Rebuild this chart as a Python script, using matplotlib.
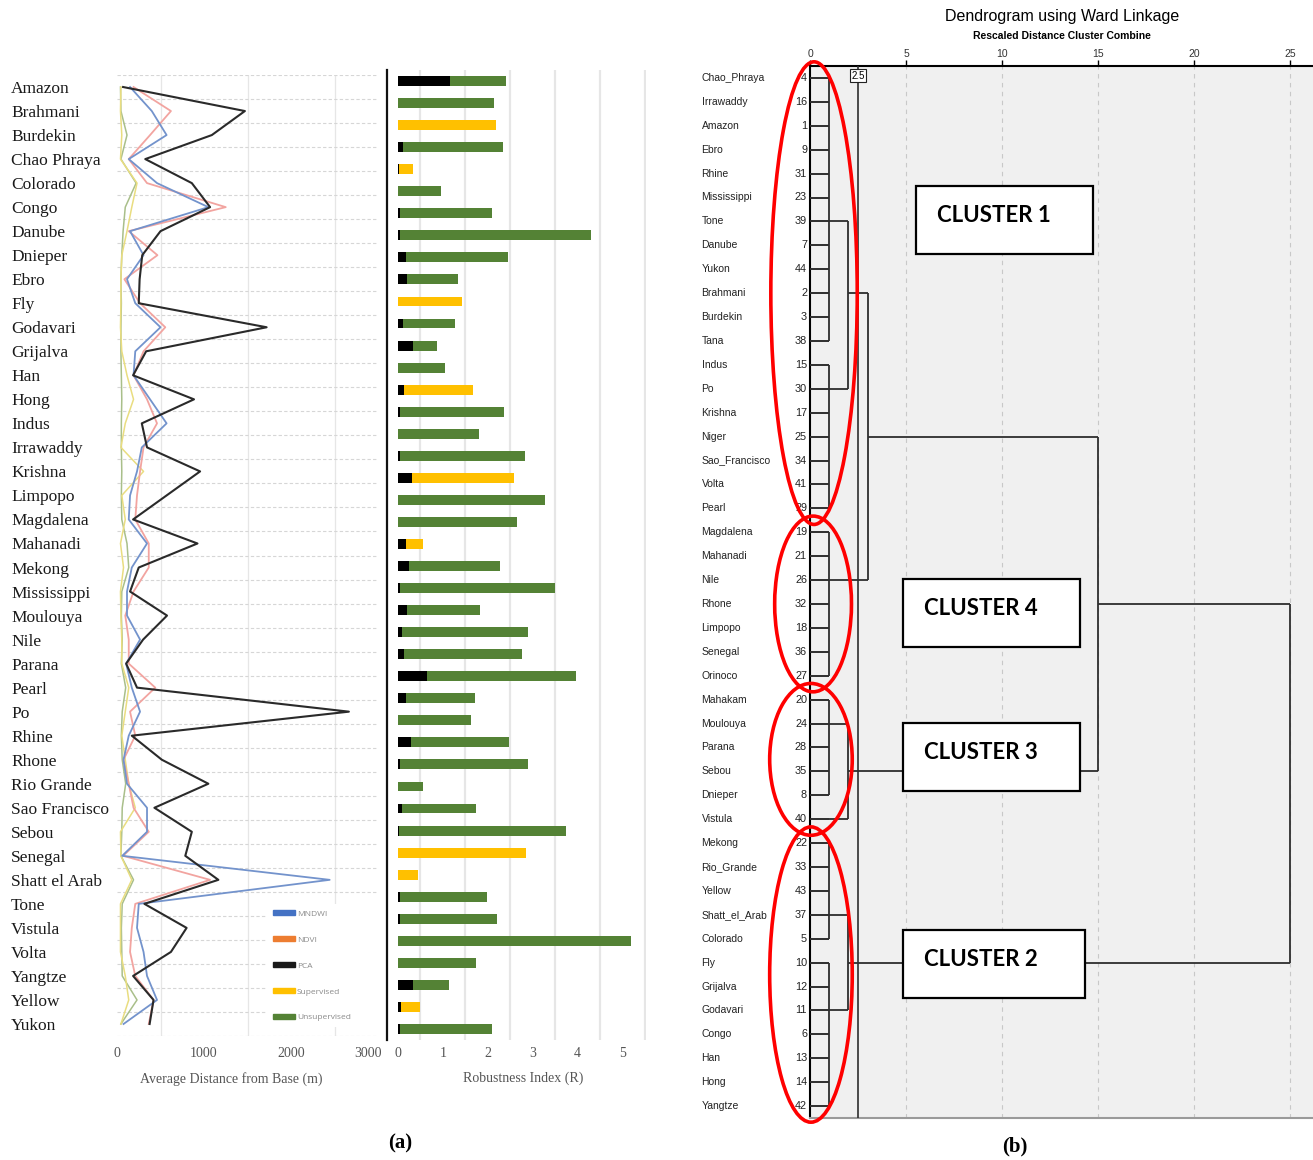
import matplotlib.pyplot as plt
import matplotlib.transforms as mtransforms
import numpy as np
from matplotlib.patches import Ellipse, Rectangle, Patch

# ---- panel (a): average distance from base, per river ----
rivers_a = ['Amazon', 'Brahmani', 'Burdekin', 'Chao Phraya', 'Colorado', 'Congo', 'Danube',
            'Dnieper', 'Ebro', 'Fly', 'Godavari', 'Grijalva', 'Han', 'Hong', 'Indus',
            'Irrawaddy', 'Krishna', 'Limpopo', 'Magdalena', 'Mahanadi', 'Mekong',
            'Mississippi', 'Moulouya', 'Nile', 'Parana', 'Pearl', 'Po', 'Rhine', 'Rhone',
            'Rio Grande', 'Sao Francisco', 'Sebou', 'Senegal', 'Shatt el Arab', 'Tone',
            'Vistula', 'Volta', 'Yangtze', 'Yellow', 'Yukon']
pca_dist = [70, 1470, 1090, 325, 860, 1070, 500, 290, 260, 250, 1720, 335, 185, 885, 285,
            345, 955, 570, 185, 925, 250, 150, 575, 300, 105, 230, 2665, 170, 515, 1050,
            430, 860, 785, 1165, 315, 800, 620, 185, 420, 375]
mndwi_dist = [150, 400, 570, 135, 460, 1050, 150, 305, 115, 210, 500, 210, 190, 380, 570,
              285, 230, 150, 135, 345, 170, 115, 115, 265, 105, 170, 265, 135, 75, 115,
              345, 345, 60, 2445, 250, 230, 305, 345, 460, 75]
ndvi_dist = [190, 620, 380, 135, 345, 1250, 135, 465, 85, 265, 555, 305, 190, 345, 460,
             305, 265, 230, 210, 365, 365, 190, 95, 135, 135, 440, 150, 210, 75, 135,
             190, 365, 70, 1070, 210, 170, 150, 210, 420, 365]
sup_dist = [45, 40, 55, 40, 230, 170, 115, 55, 45, 45, 40, 55, 115, 190, 95, 45, 305, 55,
            95, 40, 75, 40, 45, 55, 55, 135, 95, 55, 95, 135, 210, 40, 45, 170, 40, 40,
            40, 95, 135, 45]
unsup_dist = [40, 45, 115, 45, 220, 95, 70, 55, 45, 50, 45, 45, 50, 55, 50, 50, 55, 50, 55,
              115, 135, 55, 50, 60, 50, 100, 60, 50, 60, 100, 60, 55, 45, 190, 60, 50, 55,
              60, 230, 45]

# ---- panel (a): robustness index, 44 rivers ----
rivers_b = ['Amazon', 'Brahmani', 'Burdekin', 'Chao Phraya', 'Colorado', 'Congo', 'Danube',
            'Dnieper', 'Ebro', 'Fly', 'Godavari', 'Grijalva', 'Han', 'Hong', 'Indus',
            'Irrawaddy', 'Krishna', 'Limpopo', 'Magdalena', 'Mahakam', 'Mahanadi', 'Mekong',
            'Mississippi', 'Moulouya', 'Niger', 'Nile', 'Orinoco', 'Parana', 'Pearl', 'Po',
            'Rhine', 'Rhone', 'Rio Grande', 'Sao Francisco', 'Sebou', 'Senegal',
            'Shatt el Arab', 'Tana', 'Tone', 'Vistula', 'Volta', 'Yangtze', 'Yellow', 'Yukon']
r_pca = [1.15, 0, 0, 0.11, 0.03, 0, 0.05, 0.05, 0.19, 0.2, 0, 0.11, 0.34, 0, 0.13, 0.06, 0,
         0.06, 0.32, 0, 0, 0.18, 0.26, 0.04, 0.2, 0.1, 0.13, 0.64, 0.18, 0, 0.3, 0.05, 0,
         0.1, 0.03, 0, 0, 0.04, 0.06, 0, 0, 0.33, 0.07, 0.04]
r_sup = [0, 0, 2.18, 0, 0.30, 0, 0, 0, 0, 0, 1.43, 0, 0, 0, 1.55, 0, 0, 0, 2.26, 0, 0, 0.37,
         0, 0, 0, 0, 0, 0, 0, 0, 0, 0, 0, 0, 0, 2.86, 0.46, 0, 0, 0, 0, 0, 0.42, 0]
r_unsup = [1.25, 2.15, 0, 2.24, 0, 0.95, 2.05, 4.24, 2.25, 1.14, 0, 1.16, 0.54, 1.05, 0,
           2.31, 1.81, 2.78, 0, 3.28, 2.65, 0, 2.01, 3.45, 1.63, 2.79, 2.64, 3.32, 1.53,
           1.62, 2.17, 2.84, 0.55, 1.65, 3.71, 0, 0, 1.95, 2.15, 5.19, 1.73, 0.81, 0, 2.06]

methods = ['MNDWI', 'NDVI', 'PCA', 'Supervised', 'Unsupervised']
method_colors = ['#4472C4', '#ED7D31', '#1a1a1a', '#FFC000', '#548235']

# ---- panel (b): dendrogram ----
leaves = ['Chao_Phraya', 'Irrawaddy', 'Amazon', 'Ebro', 'Rhine', 'Mississippi', 'Tone',
          'Danube', 'Yukon', 'Brahmani', 'Burdekin', 'Tana', 'Indus', 'Po', 'Krishna',
          'Niger', 'Sao_Francisco', 'Volta', 'Pearl', 'Magdalena', 'Mahanadi', 'Nile',
          'Rhone', 'Limpopo', 'Senegal', 'Orinoco', 'Mahakam', 'Moulouya', 'Parana',
          'Sebou', 'Dnieper', 'Vistula', 'Mekong', 'Rio_Grande', 'Yellow',
          'Shatt_el_Arab', 'Colorado', 'Fly', 'Grijalva', 'Godavari', 'Congo', 'Han',
          'Hong', 'Yangtze']
leaf_ids = [4, 16, 1, 9, 31, 23, 39, 7, 44, 2, 3, 38, 15, 30, 17, 25, 34, 41, 29, 19, 21,
            26, 32, 18, 36, 27, 20, 24, 28, 35, 8, 40, 22, 33, 43, 37, 5, 10, 12, 11, 6,
            13, 14, 42]
# vertical joins: (distance, first row, last row)
joins = [(1, 0, 11), (1, 12, 18), (2, 6, 13), (1, 19, 25), (3, 9, 21), (1, 26, 30),
         (2, 27, 31), (15, 15, 29), (1, 32, 36), (1, 37, 43), (2, 35, 39), (25, 22, 37)]
# horizontal links: (row, from distance, to distance)
links = [(6, 1, 2), (13, 1, 2), (9, 2, 3), (21, 1, 3), (15, 3, 15), (27, 1, 2), (31, 1, 2),
         (29, 2, 15), (22, 15, 25), (35, 1, 2), (39, 1, 2), (37, 2, 25)]
cut_height = 2.5
clusters = ['CLUSTER 1', 'CLUSTER 4', 'CLUSTER 3', 'CLUSTER 2']
cluster_rows = [(0, 18), (19, 25), (26, 31), (32, 43)]

W, H = 1313, 1160
fig = plt.figure(figsize=(W / 100, H / 100), dpi=100)


def px_axes(x0, y0, x1, y1):
    return fig.add_axes([x0 / W, 1 - y1 / H, (x1 - x0) / W, (y1 - y0) / H])


serif = 'Liberation Serif'
sans = 'Liberation Sans'

# ---------------- line chart ----------------
ax1 = px_axes(117, 75, 378, 1036)
y_a = np.arange(len(rivers_a))
ax1.plot(unsup_dist, y_a, color='#a9bf8a', lw=1.1, zorder=2)
ax1.plot(sup_dist, y_a, color='#e9dd80', lw=1.1, zorder=2)
ax1.plot(ndvi_dist, y_a, color='#f2a4a0', lw=1.3, zorder=3)
ax1.plot(mndwi_dist, y_a, color='#7393cc', lw=1.3, zorder=4)
ax1.plot(pca_dist, y_a, color='#2a2a2a', lw=1.5, zorder=5)
ax1.set_xlim(0, 3000)
ax1.set_ylim(len(rivers_a) - 0.5, -0.5)
ax1.set_xticks([0, 1000, 2000, 3000])
ax1.set_xticklabels(['0', '1000', '2000', '3000'], fontfamily=serif, fontsize=10, color='#555555')
ax1.set_xticks(np.arange(0, 3001, 500), minor=True)
ax1.set_yticks(y_a)
ax1.set_yticklabels(rivers_a, fontfamily=serif, fontsize=12.5, color='#1a1a1a', ha='left')
ax1.set_yticks(np.arange(-0.5, len(rivers_a)), minor=True)
ax1.tick_params(axis='y', which='major', length=0, pad=76.3)
ax1.tick_params(axis='x', which='major', length=0, pad=8)
ax1.tick_params(which='minor', length=0)
ax1.grid(which='minor', axis='x', color='#e6e6e6', lw=0.9)
ax1.grid(which='minor', axis='y', color='#d6d6d6', lw=0.8, ls=(0, (3, 2)))
for s in ax1.spines.values():
    s.set_visible(False)
last = ax1.get_xticklabels()[-1]
last.set_transform(last.get_transform() + mtransforms.ScaledTranslation(-0.1, 0, fig.dpi_scale_trans))
ax1.set_xlabel('Average Distance from Base (m)', fontfamily=serif, fontsize=10, color='#555555')
ax1.xaxis.set_label_coords((231 - 117) / 261, -0.037)
handles = [Patch(color=c) for c in method_colors]
leg = ax1.legend(handles, methods, loc='upper left', bbox_to_anchor=(0.575, 0.137, 0.425, 0.0),
                 mode='expand', frameon=True, facecolor='white', edgecolor='none',
                 framealpha=1, handlelength=2.6, handleheight=0.6, labelspacing=2.2,
                 borderpad=0.7, handletextpad=0.3, borderaxespad=0,
                 prop={'family': 'Open Sans', 'size': 6})
for t in leg.get_texts():
    t.set_color('#8a8a8a')
leg.set_zorder(10)

# ---------------- robustness bars ----------------
ax2 = px_axes(387, 70, 646, 1040)
y_b = np.arange(len(rivers_b))
r_pca = np.array(r_pca)
r_sup = np.array(r_sup)
r_unsup = np.array(r_unsup)
bh = 0.45
ax2.barh(y_b, r_pca, height=bh, color='#000000', zorder=3)
ax2.barh(y_b, r_sup, left=r_pca, height=bh, color='#FFC000', zorder=3)
ax2.barh(y_b, r_unsup, left=r_pca + r_sup, height=bh, color='#548235', zorder=3)
ax2.set_xlim(-0.24, 5.52)
ax2.set_ylim(len(rivers_b) - 0.5, -0.5)
ax2.set_xticks(range(6))
ax2.set_xticklabels([str(i) for i in range(6)], fontfamily=serif, fontsize=10, color='#555555')
ax2.set_xticks(np.arange(0, 5.51, 0.5), minor=True)
ax2.set_yticks([])
ax2.tick_params(axis='x', which='both', length=0, pad=5)
ax2.grid(which='minor', axis='x', color='#e6e6e6', lw=1.6, zorder=0)
ax2.set_axisbelow(True)
for k in ['top', 'right', 'bottom']:
    ax2.spines[k].set_visible(False)
ax2.spines['left'].set_color('#111111')
ax2.spines['left'].set_linewidth(1.6)
ax2.set_xlabel('Robustness Index (R)', fontfamily=serif, fontsize=10, color='#555555')
ax2.xaxis.set_label_coords((523 - 387) / 259, -0.033)

# ---------------- dendrogram ----------------
ax3 = px_axes(810, 66, 1313, 1118)
ax3.set_facecolor('#f0f0f0')
ax3.set_xlim(0, 503 / 19.2)
ax3.set_ylim(len(leaves) - 0.5, -0.5)
ax3.xaxis.tick_top()
ax3.set_xticks([0, 5, 10, 15, 20, 25])
ax3.set_xticklabels(['0', '5', '10', '15', '20', '25'], fontfamily=sans, fontsize=7.5, color='#333333')
ax3.tick_params(axis='x', direction='out', length=4, width=1, pad=1)
ax3.set_yticks([])
for xv in [5, 10, 15, 20, 25]:
    ax3.axvline(xv, color='#c8c8c8', lw=0.8, ls=(0, (4, 4)), zorder=1)
ax3.spines['right'].set_visible(False)
ax3.spines['top'].set_linewidth(1.5)
ax3.spines['left'].set_linewidth(1.5)
ax3.spines['bottom'].set_color('#9a9a9a')
ax3.spines['bottom'].set_linewidth(1.5)

lc = '#2e2e2e'
ax3.hlines(np.arange(len(leaves)), 0, 1, color=lc, lw=1.4, zorder=3)
for h, r0, r1 in joins:
    ax3.vlines(h, r0, r1, color=lc, lw=1.3, zorder=3)
for r, h0, h1 in links:
    ax3.hlines(r, h0, h1, color=lc, lw=1.3, zorder=3)
ax3.axvline(cut_height, color=lc, lw=1.2, zorder=3)
ax3.text(cut_height, -0.1, '2.5', ha='center', va='center', fontsize=7, fontfamily=sans,
         zorder=6, bbox=dict(boxstyle='square,pad=0.15', fc='white', ec='#222222', lw=0.8))

for i, (name, num) in enumerate(zip(leaves, leaf_ids)):
    ax3.text(-5.65, i, name, ha='left', va='center', fontsize=7.5, fontfamily=sans,
             color='#222222', clip_on=False)
    ax3.text(-0.15, i, str(num), ha='right', va='center', fontsize=7.8, fontfamily=sans,
             color='#222222', clip_on=False)

fig.text(1062 / W, 1 - 17 / H, 'Dendrogram using Ward Linkage', ha='center', va='center',
         fontsize=11.5, fontfamily=sans)
fig.text(1062 / W, 1 - 36 / H, 'Rescaled Distance Cluster Combine', ha='center', va='center',
         fontsize=7.5, fontweight='bold', fontfamily=sans)

# red ellipses around clusters (centre row, height in rows)
ell_x = [0.21, 0.16, 0.05, 0.05]
ell_w = [4.5, 4.0, 4.3, 4.3]
for (r0, r1), ex, ew in zip(cluster_rows, ell_x, ell_w):
    cy = (r0 + r1) / 2
    hgt = (r1 - r0) + 1.35
    ax3.add_patch(Ellipse((ex, cy), ew, hgt, fill=False, ec='#ff0000', lw=2.6,
                          clip_on=False, zorder=7))

# cluster label boxes (left, right distance; top, bottom row)
box_pos = [(5.52, 14.74, 4.52, 7.36), (4.84, 14.06, 20.96, 23.8),
           (4.84, 14.06, 26.99, 29.83), (4.84, 14.32, 35.65, 38.49)]
for lab, (x0, x1, y0, y1) in zip(clusters, box_pos):
    ax3.add_patch(Rectangle((x0, y0), x1 - x0, y1 - y0, fc='white', ec='black', lw=1.6, zorder=8))
    ax3.text(x0 + 1.1, (y0 + y1) / 2 - 0.2, lab, ha='left', va='center', fontsize=16,
             fontweight='bold', fontfamily='Lato', zorder=9)

fig.text(400 / W, 1 - 1143 / H, '(a)', ha='center', va='center', fontsize=15,
         fontweight='bold', fontfamily=serif)
fig.text(1015 / W, 1 - 1146 / H, '(b)', ha='center', va='center', fontsize=15,
         fontweight='bold', fontfamily=serif)

fig.savefig('out.png', dpi=100)
